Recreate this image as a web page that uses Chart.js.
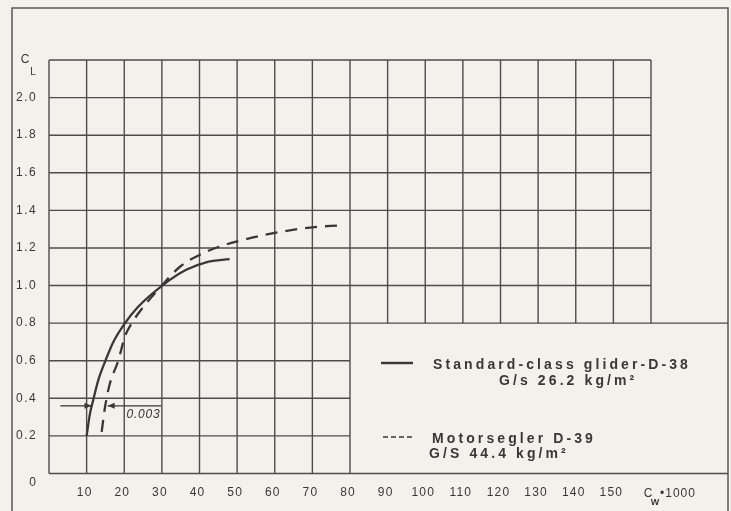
<!DOCTYPE html>
<html><head><meta charset="utf-8">
<script src="https://cdn.jsdelivr.net/npm/chart.js@4"></script>
<style>html,body{margin:0;padding:0;background:#f3f1ec;}canvas{display:block}</style>
</head><body>
<canvas id="c" width="731" height="511"></canvas>
<script>
// ---- data ----
const gliderCw = [10.0, 10.9, 11.8, 13.1, 14.9, 17.1, 20.2, 23.7, 30.1, 36.6, 42.0, 48.0];
const gliderCl = [0.20, 0.32, 0.395, 0.497, 0.595, 0.70, 0.80, 0.887, 1.0, 1.085, 1.125, 1.14];
const motorCw = [14.0, 14.9, 16.2, 18.4, 20.2, 22.0, 25.1, 30.0, 34.8, 40.2, 45.0, 50.0, 60.0, 70.0, 77.4];
const motorCl = [0.222, 0.355, 0.48, 0.60, 0.73, 0.80, 0.887, 1.0, 1.10, 1.165, 1.205, 1.235, 1.28, 1.31, 1.32];
const xTickValues = [10, 20, 30, 40, 50, 60, 70, 80, 90, 100, 110, 120, 130, 140, 150];
const xTickLabels = ['10','20','30','40','50','60','70','80','90','100','110','120','130','140','150'];
const yTickValues = [0.2, 0.4, 0.6, 0.8, 1.0, 1.2, 1.4, 1.6, 1.8, 2.0];
const yTickLabels = ['0.2','0.4','0.6','0.8','1.0','1.2','1.4','1.6','1.8','2.0'];
const xGridFull = [0, 10, 20, 30, 40, 50, 60, 70, 80];
const xGridUpper = [90, 100, 110, 120, 130, 140, 150, 160];
const yGridUpper = [1.0, 1.2, 1.4, 1.6, 1.8, 2.0, 2.2];
const yGridLower = [0.2, 0.4, 0.6];
const yGridWide = [0, 0.8];
const seriesNames = ['Standard-class glider-D-38', 'Motorsegler D-39'];
const seriesLoads = ['G/s 26.2 kg/m²', 'G/S 44.4 kg/m²'];
const deltaLabel = '0.003';
const deltaCl = 0.36;
const deltaLeft = [3, 11.3];     // from, to (arrow at glider curve)
const deltaRight = [29.8, 15.6]; // from, to (arrow at motor glider curve)
const deltaLabelPos = [25.1, 0.311];

const INK = '#383838';
const GRID = '#4d4d4d';
const FRAME = {l: 12, t: 8, r: 728, b: 514};

function txt(ctx, s, x, y, font, spacing, align) {
  ctx.save();
  ctx.font = font;
  ctx.letterSpacing = spacing + 'px';
  ctx.textAlign = align || 'left';
  ctx.textBaseline = 'middle';
  ctx.fillStyle = INK;
  ctx.fillText(s, x, y);
  ctx.restore();
}
function line(ctx, x1, y1, x2, y2) {
  ctx.beginPath(); ctx.moveTo(x1, y1); ctx.lineTo(x2, y2); ctx.stroke();
}

const paperPlugin = {
  id: 'paper',
  beforeDraw(chart) {
    const ctx = chart.ctx, xs = chart.scales.x, ys = chart.scales.y;
    ctx.save();
    ctx.fillStyle = '#f3f1ec';
    ctx.fillRect(0, 0, chart.width, chart.height);
    ctx.strokeStyle = GRID; ctx.lineWidth = 1.4;
    ctx.strokeRect(FRAME.l, FRAME.t, FRAME.r - FRAME.l, FRAME.b - FRAME.t);
    xGridFull.forEach(v => { const p = xs.getPixelForValue(v); line(ctx, p, ys.getPixelForValue(0), p, ys.getPixelForValue(2.2)); });
    xGridUpper.forEach(v => { const p = xs.getPixelForValue(v); line(ctx, p, ys.getPixelForValue(0.8), p, ys.getPixelForValue(2.2)); });
    yGridUpper.forEach(v => { const p = ys.getPixelForValue(v); line(ctx, xs.getPixelForValue(0), p, xs.getPixelForValue(160), p); });
    yGridLower.forEach(v => { const p = ys.getPixelForValue(v); line(ctx, xs.getPixelForValue(0), p, xs.getPixelForValue(80), p); });
    yGridWide.forEach(v => { const p = ys.getPixelForValue(v); line(ctx, xs.getPixelForValue(0), p, FRAME.r, p); });
    ctx.restore();
  },
  afterDatasetsDraw(chart) {
    const ctx = chart.ctx, xs = chart.scales.x, ys = chart.scales.y;
    ctx.save();
    ctx.strokeStyle = INK; ctx.fillStyle = INK; ctx.lineWidth = 1.3;
    const yp = ys.getPixelForValue(deltaCl);
    const arrow = (from, to) => {
      const a = xs.getPixelForValue(from), b = xs.getPixelForValue(to);
      line(ctx, a, yp, b, yp);
      const d = b > a ? 1 : -1;
      ctx.beginPath(); ctx.moveTo(b, yp); ctx.lineTo(b - d * 7, yp - 3); ctx.lineTo(b - d * 7, yp + 3); ctx.closePath(); ctx.fill();
    };
    arrow(deltaLeft[0], deltaLeft[1]);
    arrow(deltaRight[0], deltaRight[1]);
    txt(ctx, deltaLabel, xs.getPixelForValue(deltaLabelPos[0]), ys.getPixelForValue(deltaLabelPos[1]), 'italic 12px "Liberation Sans"', 0.8, 'center');
    ctx.restore();
  },
  afterDraw(chart) {
    const ctx = chart.ctx, xs = chart.scales.x, ys = chart.scales.y;
    const tf = '12px "Liberation Sans"';
    yTickValues.forEach((v, i) => txt(ctx, yTickLabels[i], 16, ys.getPixelForValue(v), tf, 1.5, 'left'));
    txt(ctx, '0', 33, ys.getPixelForValue(0) + 9, tf, 1, 'center');
    xTickValues.forEach((v, i) => txt(ctx, xTickLabels[i], xs.getPixelForValue(v) - 2, 493, tf, 1.2, 'center'));
    txt(ctx, 'C', 25, 60, tf, 0, 'center');
    txt(ctx, 'L', 33, 72, '10px "Liberation Sans"', 0, 'center');
    txt(ctx, 'C', 648, 494, tf, 0, 'center');
    txt(ctx, 'W', 655, 503, 'bold 9px "Liberation Sans"', 0, 'center');
    txt(ctx, '•1000', 660, 494, tf, 1, 'left');
    ctx.save();
    ctx.strokeStyle = INK; ctx.lineWidth = 2.4;
    line(ctx, 381, 363, 413, 363);
    ctx.setLineDash([5, 3]); ctx.lineWidth = 1.5;
    line(ctx, 383, 437, 415, 437);
    ctx.restore();
    const lf = 'bold 14px "Liberation Sans"';
    txt(ctx, seriesNames[0], 433, 365, lf, 3.1, 'left');
    txt(ctx, seriesLoads[0], 499, 381, lf, 3.1, 'left');
    txt(ctx, seriesNames[1], 432, 439, lf, 3.1, 'left');
    txt(ctx, seriesLoads[1], 429, 454, lf, 3.1, 'left');
  }
};

new Chart(document.getElementById('c'), {
  type: 'scatter',
  data: {
    datasets: [
      { label: seriesNames[0], data: gliderCw.map((x, i) => ({x, y: gliderCl[i]})),
        showLine: true, borderColor: INK, borderWidth: 2.3, pointRadius: 0, cubicInterpolationMode: 'monotone', fill: false },
      { label: seriesNames[1], data: motorCw.map((x, i) => ({x, y: motorCl[i]})),
        showLine: true, borderColor: INK, borderWidth: 2.3, borderDash: [12, 8], pointRadius: 0, cubicInterpolationMode: 'monotone', fill: false }
    ]
  },
  options: {
    responsive: false, animation: false, devicePixelRatio: 1,
    layout: { padding: { left: 49, right: 80, top: 60, bottom: 37.5 } },
    plugins: { legend: { display: false }, tooltip: { enabled: false } },
    scales: {
      x: { type: 'linear', min: 0, max: 160, display: false },
      y: { type: 'linear', min: 0, max: 2.2, display: false }
    }
  },
  plugins: [paperPlugin]
});
</script>
</body></html>
